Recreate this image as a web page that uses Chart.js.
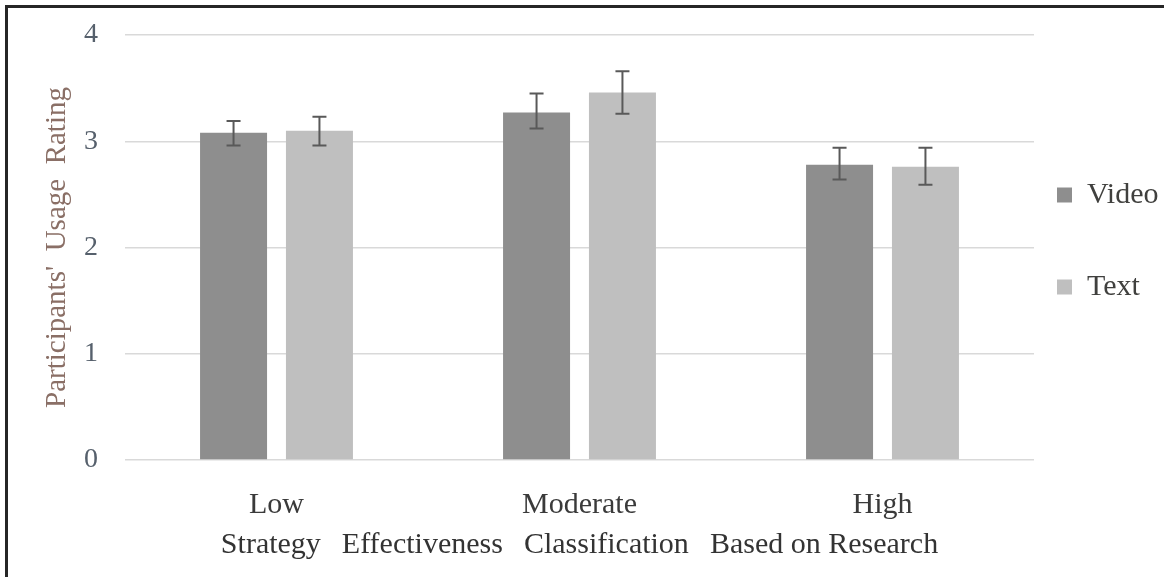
<!DOCTYPE html>
<html>
<head>
<meta charset="utf-8">
<script src="https://cdn.jsdelivr.net/npm/chart.js@4.4.1/dist/chart.umd.min.js"></script>
<style>
  html, body { margin: 0; padding: 0; background: #fff; }
  #wrap { position: relative; width: 1164px; height: 577px; }
  #frame { position: absolute; left: 5px; top: 5px; right: 0; bottom: 0;
           border-top: 3px solid #262626; border-left: 3px solid #262626; pointer-events: none; }
</style>
</head>
<body>
<div id="wrap">
  <canvas id="chart" width="1164" height="577"></canvas>
  <div id="frame"></div>
</div>
<script>
const categories = ['Low', 'Moderate', 'High'];
const videoMeans = [3.08, 3.27, 2.78];
const textMeans = [3.10, 3.46, 2.76];
const videoErrLow = [2.96, 3.12, 2.64];
const videoErrHigh = [3.19, 3.45, 2.94];
const textErrLow = [2.96, 3.26, 2.59];
const textErrHigh = [3.23, 3.66, 2.94];
const yTicks = [0, 1, 2, 3, 4];

const serif = '"Liberation Serif", "Times New Roman", serif';

// error bars drawn from the y scale after the bars
const errorBars = {
  id: 'errorBars',
  afterDatasetsDraw(chart) {
    const ctx = chart.ctx;
    const y = chart.scales.y;
    chart.data.datasets.forEach((ds, i) => {
      const meta = chart.getDatasetMeta(i);
      meta.data.forEach((bar, j) => {
        const top = y.getPixelForValue(ds.errHigh[j]);
        const bot = y.getPixelForValue(ds.errLow[j]);
        ctx.save();
        ctx.strokeStyle = '#595959';
        ctx.lineWidth = 2;
        ctx.beginPath();
        ctx.moveTo(bar.x, top); ctx.lineTo(bar.x, bot);
        ctx.moveTo(bar.x - 7, top); ctx.lineTo(bar.x + 7, top);
        ctx.moveTo(bar.x - 7, bot); ctx.lineTo(bar.x + 7, bot);
        ctx.stroke();
        ctx.restore();
      });
    });
  }
};

// move the legend next to the plot, like the original
const legendPlace = {
  id: 'legendPlace',
  afterLayout(chart) {
    const lg = chart.legend;
    lg.left = chart.chartArea.right + 23 - 62;
    lg.top = 118;
  }
};

new Chart(document.getElementById('chart'), {
  type: 'bar',
  data: {
    labels: categories,
    datasets: [
      { label: 'Video', data: videoMeans, errLow: videoErrLow, errHigh: videoErrHigh,
        backgroundColor: '#8e8e8e' },
      { label: 'Text', data: textMeans, errLow: textErrLow, errHigh: textErrHigh,
        backgroundColor: '#bfbfbf' }
    ]
  },
  options: {
    responsive: false,
    animation: false,
    layout: { padding: { top: 35, left: 0, right: 0, bottom: 0 } },
    datasets: { bar: { categoryPercentage: 0.567, barPercentage: 0.78 } },
    plugins: {
      tooltip: { enabled: false },
      legend: {
        position: 'right',
        align: 'start',
        maxWidth: 130,
        labels: {
          boxWidth: 15, boxHeight: 15,
          padding: 62,
          color: '#40403e',
          font: { family: serif, size: 30 }
        }
      }
    },
    scales: {
      x: {
        grid: { display: false },
        border: { display: false },
        ticks: { color: '#3a3a3a', padding: 19, font: { family: serif, size: 30 } },
        title: {
          display: true,
          text: 'Strategy \u2009 Effectiveness \u2009 Classification \u2009 Based on Research',
          color: '#333333',
          padding: { top: 0, bottom: 14 },
          font: { family: serif, size: 30 }
        },
        afterFit(s) { s.height = 117; }
      },
      y: {
        min: 0, max: 4,
        afterBuildTicks(s) { s.ticks = yTicks.map(v => ({ value: v })); },
        grid: { color: '#d9d9d9', lineWidth: 1.5, drawTicks: false },
        border: { display: false },
        ticks: { color: '#56606c', padding: 27, font: { family: serif, size: 28 } },
        title: {
          display: true,
          text: "Participants'  Usage  Rating",
          color: '#8a6f66',
          padding: { top: 40, bottom: 0 },
          font: { family: serif, size: 29 }
        },
        afterFit(s) { s.width = 125; s.paddingTop = 0; s.paddingBottom = 0; }
      }
    }
  },
  plugins: [errorBars, legendPlace]
});
</script>
</body>
</html>
